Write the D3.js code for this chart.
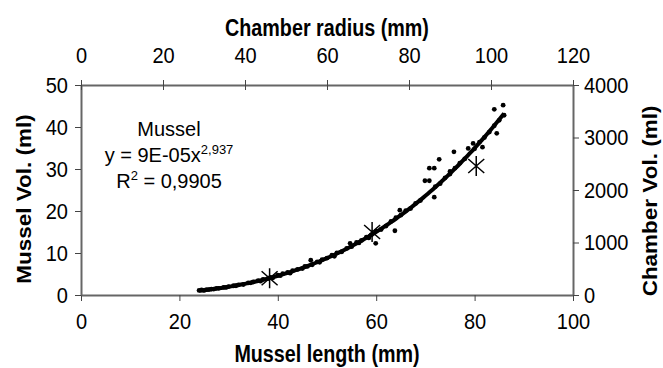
<!DOCTYPE html>
<html>
<head>
<meta charset="utf-8">
<script src="https://cdn.jsdelivr.net/npm/d3@7"></script>
<style>
  body { margin: 0; background: #fff; }
  text { font-family: "Liberation Sans", Arial, sans-serif; fill: #000; }
</style>
</head>
<body>
<svg width="663" height="368"></svg>
<script>
// mussel data (primary axes)
var musselLength = [24,24.5,25,25.5,26,26.5,27,27.5,28,29,29.5,30,31,31.5,32,33,34,34.5,35,36,36.5,37,38,38.5,39,40,40.5,41,42,42.5,43,44,45,45.5,46,46.7,47,48,48.5,49,50,51,51.5,52,53,54,54.7,55,56,56.5,57,58,58.5,59,59.9,60,61,62,63,63.8,64,64.8,65,66,67,68,69,69.9,70.8,70.8,71.8,71.8,72,72.8,73,74,75,75,75.8,76,77,78,78.7,79.7,80,81,81.6,82,83,84,84.5,85,84,85.8,86];
var musselVol = [1.1,1.2,1.1,1.3,1.3,1.4,1.4,1.6,1.6,1.8,1.8,2.0,2.2,2.2,2.4,2.5,2.9,2.9,3.1,3.4,3.3,3.7,3.9,4.2,4.1,4.7,4.6,5.1,5.4,5.2,5.8,6.1,6.3,6.8,6.8,8.3,7.2,7.9,7.8,8.4,8.8,9.5,9.2,10.0,10.3,11.1,12.3,11.5,12.5,12.4,13.0,13.8,13.6,14.3,12.3,15.2,15.6,16.4,17.5,15.3,18.4,20.2,19.0,20.1,20.6,21.8,22.5,27.2,27.2,30.2,30.2,23.3,25.8,32.3,26.5,27.9,29.4,28.8,34.1,30.2,31.4,32.4,34.9,36.1,34.8,36.4,35.2,37.5,38.8,40.3,38.5,41.6,44.2,45.2,42.8];

// power trendline shown on the chart
var trendA = 9e-5, trendB = 2.937;
var trendFrom = 24, trendTo = 86;

// chamber data (secondary axes)
var chamberRadius = [46, 71, 96.4];
var chamberVol = [320, 1200, 2456];

var xTicks = [0, 20, 40, 60, 80, 100];
var yTicks = [0, 10, 20, 30, 40, 50];
var x2Ticks = [0, 20, 40, 60, 80, 100, 120];
var y2Ticks = [0, 1000, 2000, 3000, 4000];

var L = 81, R = 573, T = 85, B = 295;
var svg = d3.select("svg");

var x = d3.scaleLinear().domain([0, 100]).range([L, R]);
var y = d3.scaleLinear().domain([0, 50]).range([B, T]);
var x2 = d3.scaleLinear().domain([0, 120]).range([L, R]);
var y2 = d3.scaleLinear().domain([0, 4000]).range([B, T]);

// the original text looks a bit narrow: squeeze it horizontally
var tickSx = 0.91, titleSx = 0.84, sideSx = 0.9;

function styleAxis(g) {
  g.select(".domain").attr("stroke", "#666").attr("stroke-width", 2);
  g.selectAll(".tick line").attr("stroke", "#444").attr("stroke-width", 1);
  g.selectAll(".tick text")
    .style("font-size", "22px").attr("fill", "#000")
    .attr("transform", function () {
      var tx = +d3.select(this).attr("x") || 0;
      return "translate(" + tx + ",0) scale(" + tickSx + ",1) translate(" + (-tx) + ",0)";
    });
}

svg.append("g").attr("transform", "translate(0," + B + ")")
  .call(d3.axisBottom(x).tickValues(xTicks).tickSize(6).tickPadding(12).tickSizeOuter(0))
  .call(styleAxis);
svg.append("g").attr("transform", "translate(" + L + ",0)")
  .call(d3.axisLeft(y).tickValues(yTicks).tickSize(6).tickPadding(7).tickSizeOuter(0))
  .call(styleAxis);
svg.append("g").attr("transform", "translate(0," + T + ")")
  .call(d3.axisTop(x2).tickValues(x2Ticks).tickSize(5).tickPadding(17).tickSizeOuter(0))
  .call(styleAxis)
  .selectAll(".tick line").attr("y1", 5);
svg.append("g").attr("transform", "translate(" + R + ",0)")
  .call(d3.axisRight(y2).tickValues(y2Ticks).tickFormat(d3.format("d"))
    .tickSize(6).tickPadding(5).tickSizeOuter(0))
  .call(styleAxis);

// axis titles
function title(tx, ty, rot, label) {
  svg.append("text")
    .attr("transform", "translate(" + tx + "," + ty + ") scale(" + (rot ? sideSx : titleSx) + ",1)" + (rot ? " rotate(-90)" : ""))
    .attr("text-anchor", "middle")
    .style("font-size", rot ? "22.5px" : "23.5px").style("font-weight", "bold")
    .text(label);
}
title((L + R) / 2, 36, false, "Chamber radius (mm)");
title((L + R) / 2, 362, false, "Mussel length (mm)");
title(31, 199, true, "Mussel Vol. (ml)");
title(657, 201, true, "Chamber Vol. (ml)");

// trendline
var trendX = d3.range(trendFrom, trendTo + 0.01, 0.5);
svg.append("path")
  .datum(trendX)
  .attr("fill", "none").attr("stroke", "#000").attr("stroke-width", 4)
  .attr("d", d3.line().x(function (d) { return x(d); })
    .y(function (d) { return y(trendA * Math.pow(d, trendB)); }));

// mussel points
svg.selectAll("circle.mussel")
  .data(musselLength)
  .enter().append("circle")
  .classed("mussel", true)
  .attr("cx", function (d) { return x(d); })
  .attr("cy", function (d, i) { return y(musselVol[i]); })
  .attr("r", 2.4)
  .attr("fill", "#000");

// chamber stars
var r = 10;
var star = "M0," + (-r) + "L0," + r +
  "M" + (-r * 0.8) + "," + (-r * 0.7) + "L" + (r * 0.8) + "," + (r * 0.7) +
  "M" + (-r * 0.8) + "," + (r * 0.7) + "L" + (r * 0.8) + "," + (-r * 0.7);
svg.selectAll("path.chamber")
  .data(chamberRadius)
  .enter().append("path")
  .classed("chamber", true)
  .attr("transform", function (d, i) { return "translate(" + x2(d) + "," + y2(chamberVol[i]) + ")"; })
  .attr("d", star)
  .attr("fill", "none").attr("stroke", "#000").attr("stroke-width", 1.5);

// equation label
var eq = svg.append("g").style("font-size", "20px");
eq.append("text").attr("x", 169).attr("y", 136).attr("text-anchor", "middle").text("Mussel");
var t2 = eq.append("text").attr("x", 169).attr("y", 162).attr("text-anchor", "middle");
t2.append("tspan").text("y = 9E-05x");
t2.append("tspan").attr("dy", -8).style("font-size", "13px").text("2,937");
var t3 = eq.append("text").attr("x", 169).attr("y", 188).attr("text-anchor", "middle");
t3.append("tspan").text("R");
t3.append("tspan").attr("dy", -8).style("font-size", "13px").text("2");
t3.append("tspan").attr("dy", 8).text(" = 0,9905");
</script>
</body>
</html>
